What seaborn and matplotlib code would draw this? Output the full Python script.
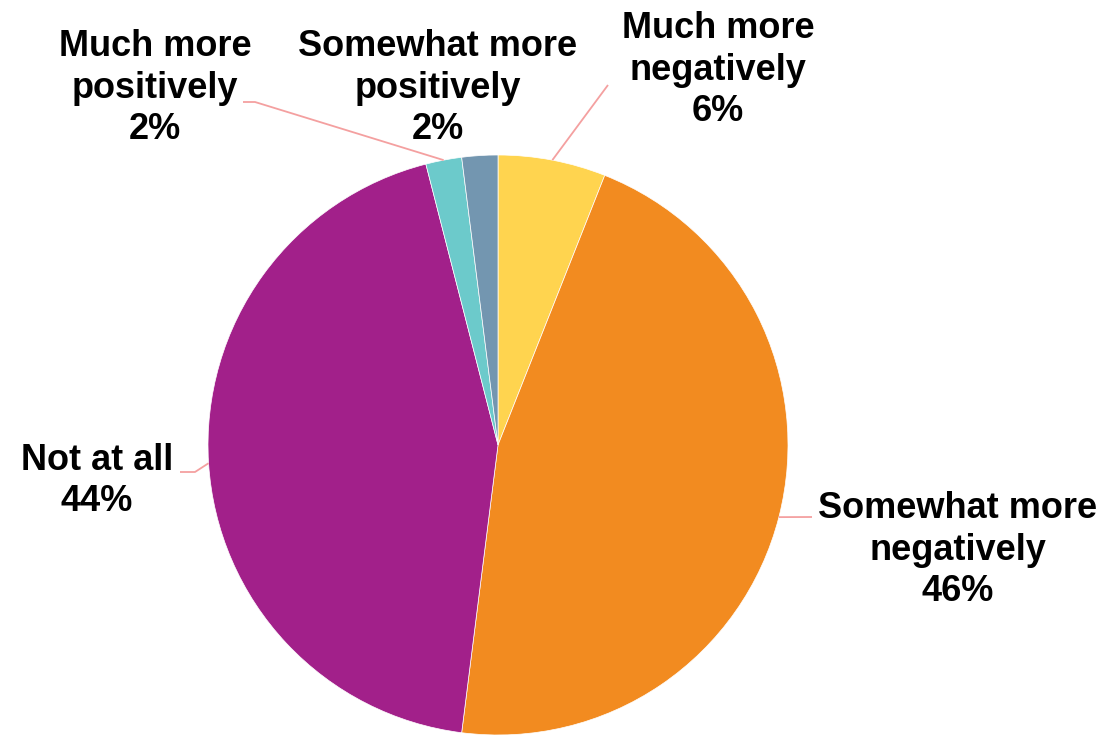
import numpy as np
import matplotlib
matplotlib.use('Agg')
import matplotlib.pyplot as plt
import seaborn as sns

labels = ['Much more\nnegatively', 'Somewhat more\nnegatively', 'Not at all',
          'Much more\npositively', 'Somewhat more\npositively']
values = [6, 46, 44, 2, 2]
colors = ['#FFD44F', '#F28B20', '#A2208A', '#6CCACB', '#7396B0']

sns.set_theme(style='white')
plt.rcParams['font.family'] = ['Liberation Sans', 'DejaVu Sans']

W, H = 1110, 736
fig = plt.figure(figsize=(W / 100, H / 100), dpi=100)
ax = fig.add_axes([0, 0, 1, 1])

cx, cy, r = 498, H - 445, 290
wedges, _ = ax.pie(values, colors=colors, startangle=90, counterclock=False,
                   center=(cx, cy), radius=r, frame=True,
                   wedgeprops=dict(edgecolor='white', linewidth=0.5))
ax.set_xlim(0, W)
ax.set_ylim(0, H)
ax.set_aspect('equal')
ax.axis('off')

# label centres and leader-line elbow points, pixel coords from top-left
text_pos = [(718, 70), (958, 550), (97, 481), (155, 88), (438, 88)]
elbows = [[(608, 85)], [(812, 517)], [(195, 472), (180, 472)],
          [(255, 102), (243, 102)], None]
line_col = '#F4A0A0'

for w, lab, v, (tx, ty), el in zip(wedges, labels, values, text_pos, elbows):
    ax.text(tx, H - ty, f'{lab}\n{v}%', ha='center', va='center',
            fontsize=26, fontweight='bold', color='black', linespacing=1.23)
    if el is None:
        continue
    mid = np.deg2rad((w.theta1 + w.theta2) / 2)
    xs = [cx + r * np.cos(mid)] + [p[0] for p in el]
    ys = [cy + r * np.sin(mid)] + [H - p[1] for p in el]
    ax.plot(xs, ys, color=line_col, lw=1.3, solid_capstyle='butt')

fig.savefig('out.png', dpi=100)
